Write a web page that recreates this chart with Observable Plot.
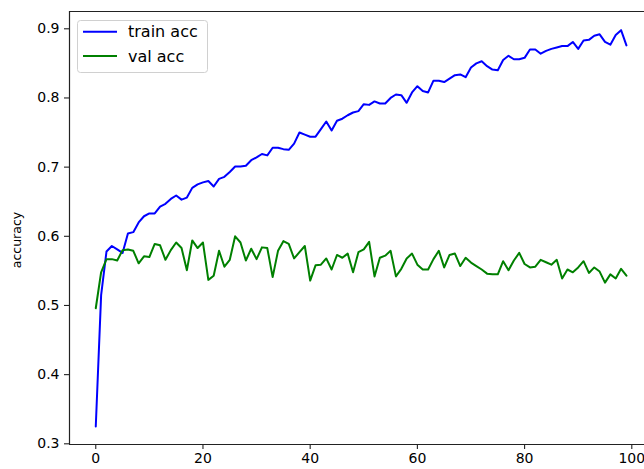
<!DOCTYPE html>
<html><head><meta charset="utf-8">
<script src="https://cdn.jsdelivr.net/npm/d3@7"></script>
<script src="https://cdn.jsdelivr.net/npm/@observablehq/plot@0.6"></script>
<style>
body{margin:0;background:#fff;}
#wrap{position:relative;width:644px;height:469px;overflow:hidden;}
#legend{position:absolute;left:0;top:0;}
</style></head><body><div id="wrap"></div>
<script>
const trainAcc = [0.325,0.515,0.578,0.586,0.581,0.576,0.604,0.606,0.620,0.629,
  0.633,0.633,0.643,0.647,0.654,0.659,0.653,0.656,0.670,0.675,
  0.678,0.680,0.672,0.683,0.686,0.693,0.701,0.701,0.702,0.710,
  0.714,0.719,0.717,0.728,0.728,0.726,0.725,0.734,0.750,0.747,
  0.744,0.744,0.755,0.766,0.753,0.767,0.770,0.775,0.779,0.781,
  0.791,0.790,0.795,0.792,0.792,0.800,0.805,0.804,0.793,0.808,
  0.817,0.810,0.808,0.825,0.825,0.823,0.828,0.833,0.834,0.830,
  0.844,0.850,0.853,0.846,0.841,0.840,0.855,0.861,0.856,0.856,
  0.858,0.870,0.870,0.864,0.868,0.871,0.873,0.875,0.875,0.881,
  0.871,0.883,0.884,0.890,0.892,0.881,0.877,0.891,0.898,0.876];
const valAcc = [0.496,0.548,0.567,0.567,0.565,0.580,0.581,0.579,0.561,0.571,
  0.570,0.589,0.587,0.566,0.580,0.591,0.583,0.551,0.594,0.583,
  0.591,0.537,0.543,0.579,0.556,0.566,0.600,0.591,0.565,0.582,
  0.567,0.584,0.583,0.541,0.579,0.593,0.589,0.568,0.577,0.586,
  0.536,0.558,0.559,0.568,0.552,0.573,0.569,0.575,0.548,0.577,
  0.581,0.592,0.542,0.569,0.572,0.579,0.542,0.553,0.568,0.575,
  0.559,0.552,0.552,0.567,0.579,0.555,0.573,0.575,0.557,0.569,
  0.562,0.557,0.552,0.546,0.545,0.545,0.564,0.551,0.565,0.576,
  0.560,0.555,0.556,0.566,0.5625,0.559,0.566,0.539,0.552,0.548,
  0.555,0.564,0.547,0.555,0.549,0.533,0.545,0.539,0.553,0.543];
const xTicks = [0,20,40,60,80,100];
const yTicks = [0.3,0.4,0.5,0.6,0.7,0.8,0.9];
const seriesNames = ["train acc","val acc"];
const seriesColors = ["#0000ff","#008000"];
const yLabel = "accuracy";

const rows = trainAcc.map((v,i)=>({epoch:i, train:v, val:valAcc[i]}));
const xDom = [-4.9, 102.37], yDom = [0.299, 0.925];
const axisColor = "#222";
const chart = Plot.plot({
  width:644, height:469, marginLeft:69, marginRight:0, marginTop:11, marginBottom:25,
  style:{fontFamily:"'DejaVu Sans'", fontSize:"14px", color:"#000", background:"#fff", overflow:"visible"},
  x:{domain:xDom},
  y:{domain:yDom},
  marks:[
    Plot.lineY(rows,{x:"epoch", y:"train", stroke:seriesColors[0], strokeWidth:2}),
    Plot.lineY(rows,{x:"epoch", y:"val", stroke:seriesColors[1], strokeWidth:2}),
    Plot.ruleY([yDom[0]], {stroke:axisColor, strokeWidth:1.2}),
    Plot.ruleY([yDom[1]], {stroke:axisColor, strokeWidth:1.2}),
    Plot.ruleX([xDom[0]], {stroke:axisColor, strokeWidth:1.2}),
    Plot.axisX({ticks:xTicks, tickFormat:d=>String(d), tickSize:5, tickPadding:4, label:null, stroke:axisColor, strokeWidth:1.1}),
    Plot.axisY({ticks:yTicks, tickFormat:".1f", tickSize:5, tickPadding:5, label:null, stroke:axisColor, strokeWidth:1.1}),
    Plot.text([yLabel], {frameAnchor:"left", textAnchor:"middle", lineAnchor:"middle", dx:-53, dy:12, rotate:-90, fontSize:12.5, fill:"#000"})
  ]
});
const wrap = document.getElementById("wrap");
wrap.appendChild(chart);

// legend overlay
const lg = d3.select(wrap).append("svg").attr("id","legend").attr("width",644).attr("height",469)
  .style("font-family","'DejaVu Sans'");
lg.append("rect").attr("x",77.5).attr("y",20.5).attr("width",130).attr("height",52)
  .attr("rx",3).attr("fill","#fff").attr("fill-opacity",0.8).attr("stroke","#d0d0d0");
seriesNames.forEach((name,i)=>{
  const y = 31.7 + i*24.3;
  lg.append("line").attr("x1",83).attr("x2",117).attr("y1",y).attr("y2",y)
    .attr("stroke",seriesColors[i]).attr("stroke-width",2);
  lg.append("text").attr("x",128).attr("y",y).attr("dy","0.35em")
    .attr("font-size",16).attr("fill","#000").text(name);
});
</script></body></html>
